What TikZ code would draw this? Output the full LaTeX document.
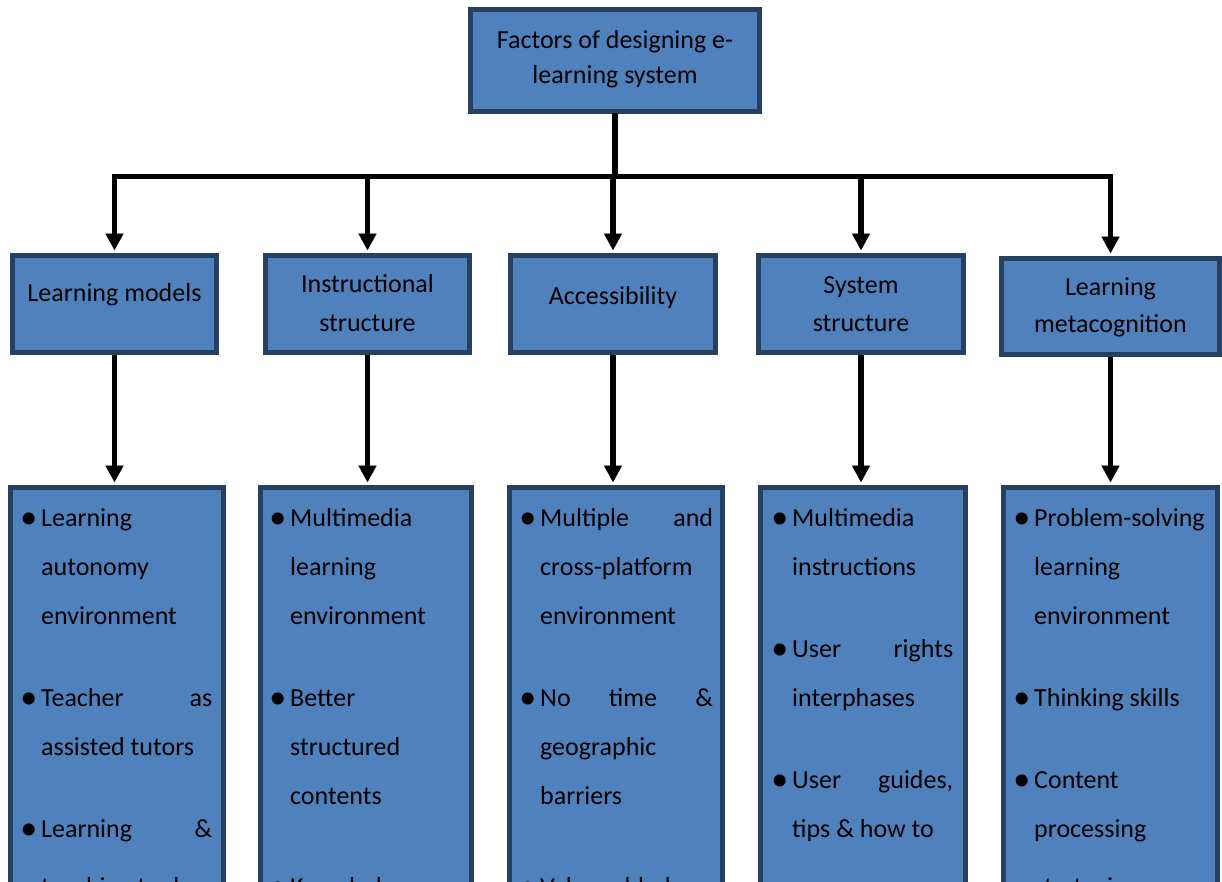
\documentclass[tikz,border=0pt]{standalone}
\usepackage{fontspec}
\setmainfont{Carlito}
\usetikzlibrary{arrows.meta}
\definecolor{boxfill}{RGB}{79,129,189}
\definecolor{boxline}{RGB}{37,64,97}
\newcommand\bul{\leavevmode\llap{\raisebox{-2.5pt}{\fontsize{34}{34}\selectfont\textbullet}\hspace{4pt}}}
\newcommand\jl[1]{\leavevmode\hbox to\linewidth{#1}}
\newcommand\lbltext[3]{\parbox[t]{#1}{\centering\fontsize{26}{#2}\selectfont #3}}
\newcommand\bodytext[2]{\parbox[t]{#1}{\raggedright\fontsize{26}{49}\selectfont #2}}
\begin{document}
\begin{tikzpicture}[x=1pt,y=-1pt,
  box/.style={draw=boxline, fill=boxfill, line width=5pt, inner sep=0pt},
  lbl/.style={inner sep=0pt, anchor=base},
  body/.style={inner sep=0pt, anchor=base west},
  conn/.style={line width=5.5pt, -{Triangle[width=17pt,length=17pt]}, shorten >=2.5pt},
  plain/.style={line width=5.5pt}]
\useasboundingbox (0,0) rectangle (1222,881);
\clip (0,0) rectangle (1222,881);
% boxes
\node[box, minimum width=289pt, minimum height=102pt] (top) at (615,60.5) {};
\node[box, minimum width=204pt, minimum height=97pt] (a) at (114.5,304) {};
\node[box, minimum width=204pt, minimum height=97pt] (b) at (367.5,304) {};
\node[box, minimum width=205pt, minimum height=97pt] (c) at (613,304) {};
\node[box, minimum width=205pt, minimum height=97pt] (d) at (861,304) {};
\node[box, minimum width=218pt, minimum height=96pt] (e) at (1110.5,306.5) {};
\node[box, minimum width=213pt, minimum height=415pt] (A) at (117,695) {};
\node[box, minimum width=211pt, minimum height=415pt] (B) at (366,695) {};
\node[box, minimum width=213pt, minimum height=415pt] (C) at (616,695) {};
\node[box, minimum width=205pt, minimum height=415pt] (D) at (863,695) {};
\node[box, minimum width=214pt, minimum height=415pt] (E) at (1110.5,695) {};
% labels
\node[lbl] (topt) at (615,48) {\lbltext{285pt}{35pt}{Factors of designing e-\\learning system}};
\node[lbl] (at) at (114.5,301) {\lbltext{200pt}{38pt}{Learning models}};
\node[lbl] (bt) at (367.5,292) {\lbltext{200pt}{39pt}{Instructional\\structure}};
\node[lbl] (ct) at (613,304) {\lbltext{200pt}{38pt}{Accessibility}};
\node[lbl] (dt) at (861,293) {\lbltext{200pt}{38pt}{System\\structure}};
\node[lbl] (et) at (1110.5,295) {\lbltext{214pt}{37pt}{Learning\\metacognition}};
% body texts
\node[body] (At) at (41,526) {\bodytext{171pt}{\bul Learning\\autonomy\\environment\\[33pt]\bul\jl{Teacher\hfill as}\\assisted tutors\\[33pt]\bul\jl{Learning\hfill\&}\\[9pt]teaching tools}};
\node[body] (Bt) at (290,526) {\bodytext{171pt}{\bul Multimedia\\learning\\environment\\[33pt]\bul Better\\structured\\contents\\[42pt]\bul Knowledge}};
\node[body] (Ct) at (540,526) {\bodytext{173pt}{\bul\jl{Multiple\hfill and}\\cross-platform\\environment\\[33pt]\bul\jl{No\hfill time\hfill\&}\\geographic\\barriers\\[42pt]\bul Value added}};
\node[body] (Dt) at (792,526) {\bodytext{161pt}{\bul Multimedia\\instructions\\[33pt]\bul\jl{User\hfill rights}\\interphases\\[33pt]\bul\jl{User\hfill guides,}\\tips \& how to}};
\node[body] (Et) at (1034,526) {\bodytext{174pt}{\bul Problem-solving\\learning\\environment\\[33pt]\bul Thinking skills\\[33pt]\bul Content\\processing\\[9pt]strategies}};
% connectors (shadow then line)
\coordinate (bar) at (615,176.5);
\foreach \col/\dy in {black!30/4, black/0}{
  \begin{scope}[yshift=-\dy pt, color=\col]
    \draw[plain] ([yshift=1pt]top.south) -- (bar);
    \foreach \n in {a,b,c,d,e}
      \draw[conn] (bar) -| (\n.north);
    \foreach \n/\m in {a/A,b/B,c/C,d/D,e/E}
      \draw[conn] (\n.south) -- (\n.south |- \m.north);
  \end{scope}
}
\end{tikzpicture}
\end{document}
